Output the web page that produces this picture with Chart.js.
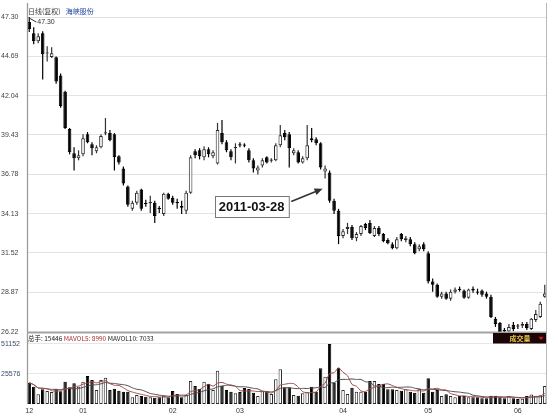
<!DOCTYPE html>
<html>
<head>
<meta charset="utf-8">
<script src="https://cdn.jsdelivr.net/npm/chart.js@4.4.1/dist/chart.umd.min.js"></script>
<style>
html,body{margin:0;padding:0;background:#fff;}
#wrap{width:558px;height:419px;position:relative;}
canvas{display:block;}
</style>
</head>
<body>
<div id="wrap"><canvas id="c" width="558" height="419"></canvas></div>
<script>
// ---------- data ----------
const periodLabel = '日线(复权)';
const stockName = '海峡股份';
const volumeLabel = '成交量';
const annotationText = '2011-03-28';
const annotationIndex = 67;

const monthNames  = ['12', '01', '02', '03', '04', '05', '06'];
const monthCounts = [12, 20, 15, 23, 19, 20, 7];

const priceTicks  = [47.30, 44.69, 42.04, 39.43, 36.78, 34.13, 31.52, 28.87, 26.22];
const volumeTicks = [25576, 51152];

const openP = [
46.96, 46.22, 45.68, 46.22, 44.85, 44.62, 44.60, 43.38, 42.30, 39.80,
38.18, 37.84, 38.11, 39.46, 38.79, 38.31, 38.58, 39.50, 39.53, 39.46,
37.98, 37.16, 35.95, 34.46, 34.87, 35.75, 34.83, 34.84, 34.87, 34.49,
34.12, 35.48, 35.21, 34.90, 34.66, 34.33, 35.54, 38.31, 38.38, 37.91,
38.45, 37.98, 37.50, 39.53, 38.92, 38.31, 38.52, 38.74, 38.74, 38.38,
37.71, 37.03, 37.37, 37.91, 37.68, 37.71, 38.72, 39.53, 39.46, 38.18,
38.25, 37.57, 37.84, 39.19, 39.12, 38.85, 36.96, 36.89, 35.00, 34.33,
32.64, 33.11, 33.25, 32.50, 32.77, 33.45, 33.52, 32.64, 33.18, 32.77,
32.37, 32.10, 31.83, 32.77, 32.37, 32.43, 32.10, 31.76, 32.10, 31.49,
29.60, 29.39, 28.58, 28.79, 28.45, 28.92, 29.12, 28.99, 28.52, 29.12,
28.92, 28.99, 28.79, 28.58, 27.10, 26.83, 26.35, 26.25, 26.69, 26.63,
26.63, 26.76, 26.42, 27.03, 27.23, 28.58
];
const highP = [
47.30, 46.62, 46.22, 46.35, 45.34, 45.27, 44.66, 43.52, 42.37, 39.87,
38.58, 38.38, 39.46, 39.60, 38.92, 38.72, 39.46, 40.54, 39.73, 39.53,
38.04, 37.30, 36.02, 35.00, 35.68, 35.81, 35.07, 35.34, 35.00, 34.66,
35.54, 35.54, 35.34, 35.14, 35.00, 35.68, 38.04, 38.45, 38.52, 38.65,
38.58, 38.38, 40.21, 40.41, 39.06, 38.45, 38.85, 38.92, 38.85, 38.52,
37.84, 37.37, 37.84, 37.98, 37.84, 38.85, 40.07, 39.73, 39.60, 38.52,
38.38, 37.98, 40.07, 39.87, 39.26, 38.92, 37.37, 37.03, 35.14, 34.46,
33.11, 33.52, 33.38, 32.91, 33.38, 33.52, 33.72, 33.31, 33.31, 32.84,
32.50, 32.23, 32.57, 32.84, 32.64, 32.57, 32.23, 32.10, 32.23, 31.62,
29.80, 29.46, 28.92, 28.92, 29.06, 29.19, 29.26, 29.06, 29.12, 29.26,
29.12, 29.06, 28.92, 28.72, 27.23, 26.89, 26.49, 26.76, 26.89, 26.76,
26.89, 26.89, 27.16, 27.70, 28.25, 29.39
];
const lowP = [
46.29, 45.48, 45.54, 43.11, 44.33, 44.55, 42.84, 41.22, 39.80, 38.11,
37.03, 37.71, 37.98, 38.85, 38.04, 38.18, 38.52, 39.39, 38.99, 37.03,
37.43, 36.02, 34.60, 34.33, 34.73, 34.33, 34.60, 34.19, 33.52, 34.19,
33.99, 35.07, 34.73, 34.46, 34.12, 34.12, 35.48, 37.84, 37.77, 37.71,
37.91, 37.84, 37.43, 38.79, 38.25, 37.71, 37.50, 38.58, 38.58, 37.57,
36.89, 36.76, 37.23, 37.50, 37.57, 37.64, 38.58, 39.06, 37.23, 38.04,
37.50, 37.50, 37.71, 38.92, 38.72, 37.10, 36.49, 34.87, 34.12, 32.10,
32.50, 32.77, 32.37, 32.30, 32.64, 33.04, 32.77, 32.57, 32.64, 32.23,
32.10, 31.76, 31.76, 32.30, 32.23, 31.96, 31.42, 31.62, 31.62, 29.46,
28.92, 28.52, 28.45, 28.38, 28.31, 28.79, 28.92, 28.45, 28.45, 28.85,
28.72, 28.58, 28.45, 27.16, 26.56, 26.22, 26.22, 26.22, 26.28, 26.42,
26.49, 26.35, 26.35, 26.89, 27.16, 28.52
];
const closeP = [
46.49, 45.68, 46.02, 44.80, 44.90, 44.87, 42.98, 41.35, 39.87, 38.25,
37.84, 38.04, 39.19, 38.92, 38.52, 38.58, 39.33, 39.56, 39.06, 37.91,
37.57, 36.15, 34.73, 34.87, 35.54, 34.46, 34.78, 34.90, 33.99, 34.43,
35.48, 35.14, 34.87, 34.84, 34.53, 35.54, 37.91, 38.04, 37.98, 38.45,
38.11, 38.25, 39.73, 38.92, 38.38, 37.91, 38.60, 38.70, 38.69, 37.71,
37.16, 37.23, 37.71, 37.57, 37.73, 38.72, 39.39, 39.26, 38.52, 38.38,
37.57, 37.84, 38.72, 39.06, 38.85, 37.23, 37.16, 35.00, 34.33, 32.64,
32.97, 33.25, 32.50, 32.77, 33.31, 33.18, 32.84, 33.18, 32.77, 32.30,
32.16, 31.83, 32.43, 32.43, 32.50, 32.10, 31.49, 31.96, 31.76, 29.60,
29.39, 28.58, 28.79, 28.45, 28.92, 29.06, 29.03, 28.52, 29.06, 28.99,
28.85, 28.72, 28.58, 27.23, 26.76, 26.22, 26.25, 26.56, 26.42, 26.58,
26.76, 26.49, 27.10, 27.43, 28.11, 28.79
];
const volume = [
18150, 14740, 8260, 12520, 11080, 10220, 12520, 10820, 19000, 14230,
17640, 14740, 19000, 23860, 20450, 11930, 20450, 22410, 11930, 13040,
11330, 10480, 10480, 5710, 7670, 6820, 6220, 5710, 5370, 5710,
7070, 5710, 11080, 8520, 5710, 7670, 19600, 15340, 12780, 19000,
17040, 11930, 28370, 15590, 11930, 10480, 9120, 10220, 13630, 12780,
9630, 6820, 10820, 10820, 8520, 21040, 29560, 14230, 14230, 7670,
7070, 9120, 9970, 14740, 10480, 30420, 23260, 51100, 18150, 30930,
11930, 8520, 13890, 10480, 10480, 10480, 19600, 19600, 17040, 17040,
12520, 12520, 11930, 11330, 12520, 10480, 9630, 13040, 9630, 21900,
10480, 11930, 6820, 8260, 6820, 5710, 6820, 6820, 5710, 5710,
5710, 4860, 4860, 7070, 7070, 5710, 4800, 6800, 5000, 4300,
4480, 6900, 8200, 7000, 7404, 15446
];

// ---------- derived ----------
const labels = [];
const monthStart = {};
monthNames.forEach((m, k) => {
  monthStart[labels.length] = m;
  for (let j = 0; j < monthCounts[k]; j++) labels.push(m + '/' + (j + 1));
});
const up = closeP.map((c, i) => c >= openP[i]);
const bodyData = openP.map((o, i) => [Math.min(o, closeP[i]), Math.max(o, closeP[i])]);
const wickData = lowP.map((l, i) => [l, highP[i]]);
function movingAvg(arr, n) {
  return arr.map((v, i) => {
    const s = Math.max(0, i - n + 1);
    let sum = 0;
    for (let k = s; k <= i; k++) sum += arr[k];
    return sum / (i - s + 1);
  });
}
const ma5 = movingAvg(volume, 5);
const ma10 = movingAvg(volume, 10);

const FONT = '"Liberation Sans", "Noto Sans CJK SC", sans-serif';
const CJK = '"Noto Sans CJK SC", "Liberation Sans", sans-serif';

// ---------- overlay plugin ----------
const overlay = {
  id: 'overlay',
  afterDraw(chart) {
    const {ctx, chartArea, scales} = chart;
    const xs = scales.x, ys = scales.y;
    ctx.save();
    // frame lines
    ctx.strokeStyle = '#9c9c9c';
    ctx.lineWidth = 1.3;
    ctx.beginPath();
    ctx.moveTo(chartArea.left + 0.5, 3); ctx.lineTo(chartArea.left + 0.5, chartArea.bottom);
    ctx.stroke();
    ctx.strokeStyle = '#b8b8b8';
    ctx.lineWidth = 1;
    ctx.beginPath();
    ctx.moveTo(chartArea.right - 0.5, 3); ctx.lineTo(chartArea.right - 0.5, chartArea.bottom);
    ctx.stroke();
    // panel separator
    ctx.strokeStyle = '#a3a3a3';
    ctx.lineWidth = 2;
    ctx.beginPath();
    ctx.moveTo(chartArea.left, ys.bottom + 0.5); ctx.lineTo(chartArea.right, ys.bottom + 0.5);
    ctx.stroke();

    // header
    ctx.textBaseline = 'middle';
    ctx.textAlign = 'left';
    ctx.font = '7px ' + CJK;
    ctx.fillStyle = '#3a3a3a';
    ctx.fillText(periodLabel, chartArea.left + 1, 11);
    const w1 = ctx.measureText(periodLabel).width;
    ctx.fillStyle = '#2040a0';
    ctx.fillText(stockName, chartArea.left + 1 + w1 + 5, 11);

    // max price marker
    let iMax = 0;
    highP.forEach((h, i) => { if (h > highP[iMax]) iMax = i; });
    const mx = xs.getPixelForValue(iMax), my = ys.getPixelForValue(highP[iMax]);
    ctx.strokeStyle = '#333';
    ctx.lineWidth = 1;
    ctx.beginPath();
    ctx.moveTo(mx, my + 1); ctx.lineTo(mx + 7, my + 5);
    ctx.stroke();
    ctx.font = '7px ' + FONT;
    ctx.fillStyle = '#333';
    ctx.fillText(highP[iMax].toFixed(2), mx + 8, my + 5);

    // annotation
    const tx = xs.getPixelForValue(annotationIndex) - 7;
    const ty = ys.getPixelForValue((openP[annotationIndex] + closeP[annotationIndex]) / 2) + 2;
    ctx.font = 'bold 13px ' + FONT;
    const tw = ctx.measureText(annotationText).width;
    const bw = tw + 8, bh = 21;
    const bcx = tx - 71, bcy = ty + 18;
    const bx = Math.round(bcx - bw / 2) + 0.5, by = Math.round(bcy - bh / 2) + 0.5;
    ctx.fillStyle = '#fff';
    ctx.fillRect(bx, by, bw, bh);
    ctx.strokeStyle = '#777';
    ctx.lineWidth = 1;
    ctx.strokeRect(bx, by, bw, bh);
    ctx.fillStyle = '#111';
    ctx.textAlign = 'center';
    ctx.fillText(annotationText, bcx, bcy + 1);
    // arrow
    const sx = bx + bw + 2, sy = by + 5;
    const ang = Math.atan2(ty - sy, tx - sx);
    ctx.strokeStyle = '#333';
    ctx.fillStyle = '#333';
    ctx.lineWidth = 1.6;
    ctx.beginPath();
    ctx.moveTo(sx, sy);
    ctx.lineTo(tx - 6 * Math.cos(ang), ty - 6 * Math.sin(ang));
    ctx.stroke();
    ctx.beginPath();
    ctx.moveTo(tx, ty);
    ctx.lineTo(tx - 8 * Math.cos(ang) + 3.5 * Math.sin(ang), ty - 8 * Math.sin(ang) - 3.5 * Math.cos(ang));
    ctx.lineTo(tx - 8 * Math.cos(ang) - 3.5 * Math.sin(ang), ty - 8 * Math.sin(ang) + 3.5 * Math.cos(ang));
    ctx.closePath();
    ctx.fill();

    // volume header
    const n = volume.length - 1;
    const vy = ys.bottom + 6.5;
    ctx.textAlign = 'left';
    ctx.font = '6.5px ' + CJK;
    let cx = chartArea.left + 1;
    const parts = [
      ['总手: ' + volume[n] + ' ', '#222'],
      ['MAVOL5: ' + Math.round(ma5[n]) + ' ', '#a83030'],
      ['MAVOL10: ' + Math.round(ma10[n]), '#222']
    ];
    parts.forEach(([t, c]) => {
      ctx.fillStyle = c;
      ctx.fillText(t, cx, vy);
      cx += ctx.measureText(t).width;
    });

    // volume label box
    const boxL = chartArea.right - 54, boxT = ys.bottom + 1, boxH = 10.5;
    ctx.fillStyle = '#1c0505';
    ctx.fillRect(boxL, boxT, chartArea.right - boxL - 1, boxH);
    ctx.fillStyle = '#e2c94a';
    ctx.textAlign = 'center';
    ctx.font = 'bold 7px ' + CJK;
    ctx.fillText(volumeLabel, boxL + 27, boxT + boxH / 2);
    ctx.fillStyle = '#d01818';
    const trx = chartArea.right - 6, tr_y = boxT + boxH / 2;
    ctx.beginPath();
    ctx.moveTo(trx - 2.5, tr_y - 1.5); ctx.lineTo(trx + 2.5, tr_y - 1.5); ctx.lineTo(trx, tr_y + 2);
    ctx.closePath();
    ctx.fill();
    ctx.restore();
  }
};

// ---------- chart ----------
new Chart(document.getElementById('c'), {
  data: {
    labels: labels,
    datasets: [
      {
        type: 'line', label: 'MAVOL5', data: ma5, yAxisID: 'yv',
        borderColor: '#a04848', borderWidth: 1, pointRadius: 0, tension: 0.2, order: 0
      },
      {
        type: 'line', label: 'MAVOL10', data: ma10, yAxisID: 'yv',
        borderColor: '#4a4a4a', borderWidth: 1, pointRadius: 0, tension: 0.2, order: 0
      },
      {
        type: 'bar', label: 'body', data: bodyData, yAxisID: 'y', grouped: false,
        barThickness: 3.6, minBarLength: 1.2, borderWidth: 1, borderSkipped: false, inflateAmount: 0,
        backgroundColor: up.map(u => u ? '#ffffff' : '#000000'),
        borderColor: up.map(u => u ? '#2a2a2a' : '#000000'),
        order: 1
      },
      {
        type: 'bar', label: 'wick', data: wickData, yAxisID: 'y', grouped: false,
        barThickness: 1.2, borderWidth: 0, inflateAmount: 0,
        backgroundColor: up.map(u => u ? '#333333' : '#000000'),
        order: 2
      },
      {
        type: 'bar', label: 'volume', data: volume, yAxisID: 'yv', grouped: false,
        barThickness: 3.4, borderWidth: 1, borderSkipped: false, inflateAmount: 0,
        backgroundColor: up.map(u => u ? '#ffffff' : '#000000'),
        borderColor: up.map(u => u ? '#2a2a2a' : '#000000'),
        order: 3
      }
    ]
  },
  options: {
    responsive: false,
    animation: false,
    events: [],
    layout: { padding: { left: 1, right: 11, top: 17, bottom: 0 } },
    plugins: { legend: { display: false }, tooltip: { enabled: false } },
    scales: {
      x: {
        type: 'category', offset: true,
        grid: { display: false, drawTicks: false },
        border: { display: false },
        ticks: {
          autoSkip: false, maxRotation: 0, minRotation: 0, padding: 3,
          font: { size: 7, family: FONT }, color: '#333',
          callback: (v, i) => monthStart[i] !== undefined ? monthStart[i] : ''
        },
        afterFit: s => { s.height = 15; }
      },
      yv: {
        type: 'linear', position: 'left', stack: 'panels', stackWeight: 72,
        min: 0, max: 61380,
        afterBuildTicks: s => { s.ticks = volumeTicks.map(v => ({ value: v })); },
        afterFit: s => { s.width = 26; },
        grid: { color: '#e6e6e6', drawTicks: false },
        border: { display: false },
        ticks: { crossAlign: 'far', padding: 0, font: { size: 7, family: FONT }, color: '#3d4a66',
                 callback: v => String(v) }
      },
      y: {
        type: 'linear', position: 'left', stack: 'panels', stackWeight: 315,
        min: 26.22, max: 47.30,
        afterBuildTicks: s => { s.ticks = priceTicks.map(v => ({ value: v })); },
        afterFit: s => { s.width = 26; },
        grid: { color: '#e3e3e3', drawTicks: false },
        border: { display: false },
        ticks: { crossAlign: 'far', padding: 0, font: { size: 7, family: FONT }, color: '#444',
                 callback: v => Number(v).toFixed(2) }
      }
    }
  },
  plugins: [overlay]
});
</script>
</body>
</html>
